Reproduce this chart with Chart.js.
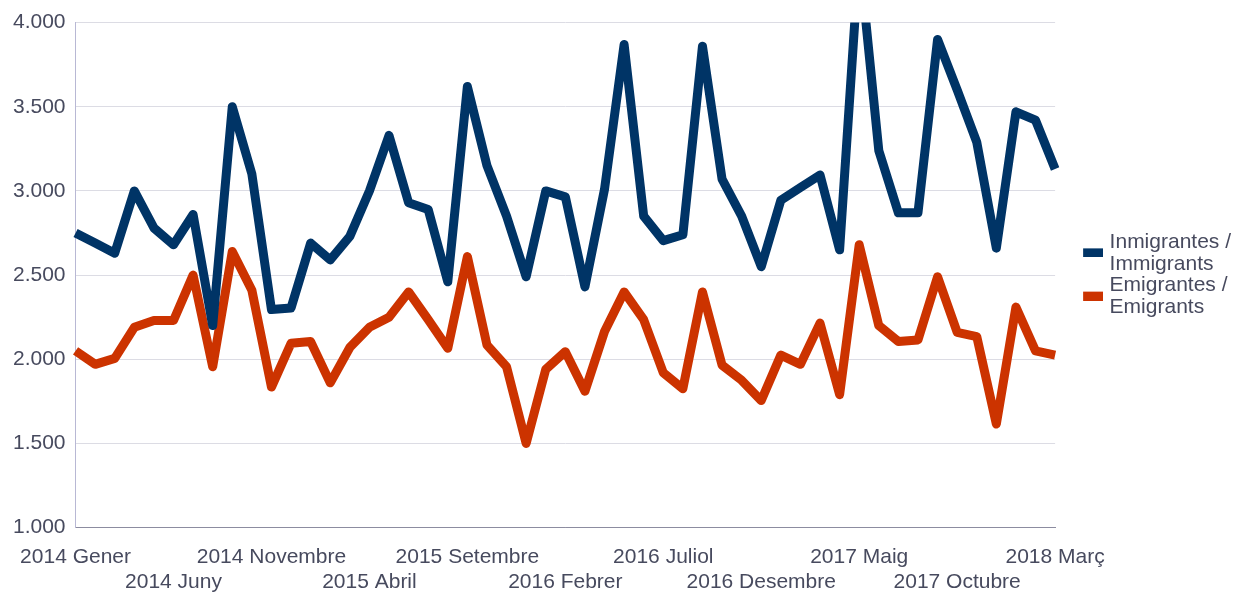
<!DOCTYPE html>
<html>
<head>
<meta charset="utf-8">
<script src="https://cdn.jsdelivr.net/npm/chart.js@4.4.1/dist/chart.umd.min.js"></script>
<style>
  html, body { margin: 0; padding: 0; background: #fff; }
  #wrap { width: 1241px; height: 594px; position: relative; }
</style>
</head>
<body>
<div id="wrap"><canvas id="myChart"></canvas></div>
<script>
const labels = [
  '2014 Gener', '2014 Febrer', '2014 Març', '2014 Abril', '2014 Maig', '2014 Juny',
  '2014 Juliol', '2014 Agost', '2014 Setembre', '2014 Octubre', '2014 Novembre', '2014 Desembre',
  '2015 Gener', '2015 Febrer', '2015 Març', '2015 Abril', '2015 Maig', '2015 Juny',
  '2015 Juliol', '2015 Agost', '2015 Setembre', '2015 Octubre', '2015 Novembre', '2015 Desembre',
  '2016 Gener', '2016 Febrer', '2016 Març', '2016 Abril', '2016 Maig', '2016 Juny',
  '2016 Juliol', '2016 Agost', '2016 Setembre', '2016 Octubre', '2016 Novembre', '2016 Desembre',
  '2017 Gener', '2017 Febrer', '2017 Març', '2017 Abril', '2017 Maig', '2017 Juny',
  '2017 Juliol', '2017 Agost', '2017 Setembre', '2017 Octubre', '2017 Novembre', '2017 Desembre',
  '2018 Gener', '2018 Febrer', '2018 Març'
];

const immigrants = [
  2750, 2690, 2630, 3000, 2780, 2680, 2860, 2200, 3500, 3100, 2295, 2305,
  2690, 2590, 2730, 3000, 3330, 2930, 2890, 2460, 3620, 3150, 2850, 2490,
  3000, 2965, 2430, 3010, 3870, 2850, 2705, 2740, 3860, 3070, 2850, 2550,
  2945, 3020, 3095, 2650, 4400, 3240, 2870, 2870, 3900, 3600, 3290, 2660,
  3470, 3420, 3130
];

const emigrants = [
  2050, 1970, 2005, 2190, 2230, 2230, 2500, 1955, 2640, 2410, 1835, 2095,
  2105, 1860, 2070, 2190, 2250, 2400, 2235, 2065, 2610, 2085, 1955, 1500,
  1940, 2045, 1810, 2165, 2400, 2235, 1920, 1825, 2400, 1965, 1875, 1755,
  2025, 1970, 2215, 1790, 2680, 2200, 2105, 2115, 2490, 2160, 2135, 1615,
  2310, 2050, 2025
];

const seriesNames = [
  ['Inmigrantes /', 'Immigrants'],
  ['Emigrantes /', 'Emigrants']
];
const colors = ['#003466', '#cc3300'];

const textColor = '#474a5e';
const fontFamily = 'Liberation Sans, Arial, sans-serif';

// legend swatch: transparent gap on the left, box shifted down between the two text lines
function swatch(color) {
  const c = document.createElement('canvas');
  c.width = 52;
  c.height = 30;
  const g = c.getContext('2d');
  g.fillStyle = color;
  g.fillRect(32, 21, 20, 9);
  return c;
}

const ctx = document.getElementById('myChart').getContext('2d');

const datasets = [immigrants, emigrants].map((values, index) => ({
  label: seriesNames[index].join(' '),
  data: values,
  borderColor: colors[index],
  backgroundColor: colors[index],
  borderWidth: 9,
  borderJoinStyle: 'round',
  borderCapStyle: 'butt',
  pointRadius: 0,
  pointHoverRadius: 0,
  pointStyle: swatch(colors[index]),
  tension: 0,
  fill: false
}));

const myChart = new Chart(ctx, {
  type: 'line',
  data: {
    labels: labels,
    datasets: datasets
  },
  options: {
    responsive: true,
    maintainAspectRatio: false,
    animation: false,
    layout: {
      padding: { top: 17, left: 3, right: 0, bottom: -18 }
    },
    scales: {
      x: {
        grid: { display: false, drawTicks: false },
        border: { display: true, color: '#8c8ca0', width: 1 },
        ticks: {
          autoSkip: false,
          maxRotation: 0,
          minRotation: 0,
          padding: 17,
          color: textColor,
          font: { family: fontFamily, size: 21, lineHeight: 1.2 },
          callback: function (value, index) {
            if (index % 5 !== 0) return null;
            return (index / 5) % 2 === 0 ? labels[index] : ['', labels[index]];
          }
        }
      },
      y: {
        min: 1000,
        max: 4000,
        grid: {
          color: c => c.tick && c.tick.value === 1000 ? '#8c8ca0' : '#dcdce4',
          drawTicks: false
        },
        border: { display: true, color: '#b8b8d4', width: 1 },
        ticks: {
          stepSize: 500,
          padding: 10,
          color: textColor,
          font: { family: fontFamily, size: 21 },
          callback: v => String(v).replace(/\B(?=(\d{3})+(?!\d))/g, '.')
        }
      }
    },
    plugins: {
      legend: {
        display: true,
        position: 'right',
        fullSize: false,
        labels: {
          usePointStyle: true,
          pointStyleWidth: 44,
          boxWidth: 44,
          padding: 0,
          color: textColor,
          font: { family: fontFamily, size: 21, lineHeight: 1.03 },
          generateLabels: function (chart) {
            const items = Chart.defaults.plugins.legend.labels.generateLabels(chart);
            items.forEach((item, i) => { item.text = seriesNames[i]; });
            return items;
          }
        }
      },
      tooltip: { enabled: false }
    }
  }
});
</script>
</body>
</html>
